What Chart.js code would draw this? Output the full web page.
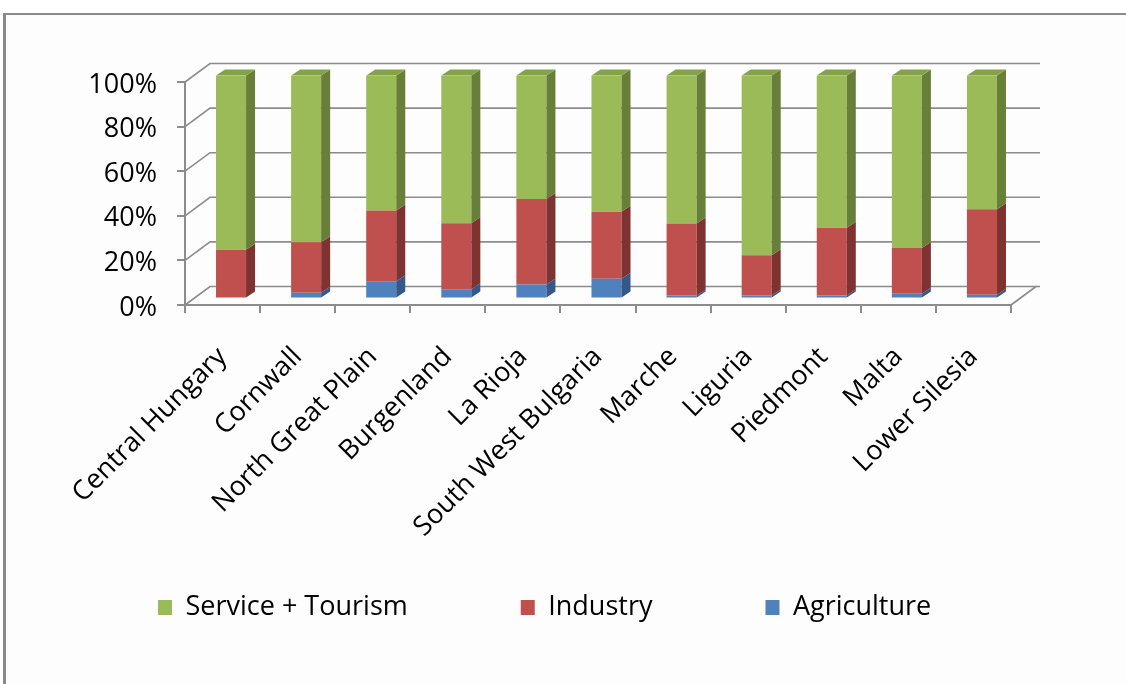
<!DOCTYPE html>
<html>
<head>
<meta charset="utf-8">
<title>Employment by sector</title>
<script src="https://cdn.jsdelivr.net/npm/chart.js@4.4.1/dist/chart.umd.min.js"></script>
<style>
    html, body { margin: 0; padding: 0; background: #ffffff; }
    #frame {
        position: absolute; left: 3px; top: 13px; right: 0; bottom: 0;
        border-top: 2px solid #8a8a8a; border-left: 3px solid #8a8a8a;
        background: #fdfdfd;
    }
    #sectorChart { position: absolute; left: 0; top: 0; }
</style>
</head>
<body>
<div id="frame"></div>
<canvas id="sectorChart" width="1126" height="684"></canvas>
<script>
// Regions
const regions = ['Central Hungary', 'Cornwall', 'North Great Plain', 'Burgenland', 'La Rioja',
    'South West Bulgaria', 'Marche', 'Liguria', 'Piedmont', 'Malta', 'Lower Silesia'];

// Share of employment per sector (%)
const agriculture = [0.5, 2.6, 7.7, 4.2, 6.3, 8.9, 1.4, 1.4, 1.4, 2.1, 1.7];
const industry = [21.4, 22.6, 31.8, 29.6, 38.3, 30.0, 32.2, 18.0, 30.3, 20.6, 38.3];
const serviceTourism = [78.1, 74.8, 60.5, 66.2, 55.4, 61.1, 66.4, 80.6, 68.3, 77.3, 60.0];

// y axis ticks
const percentTicks = [0, 20, 40, 60, 80, 100];

// front / side / top colours for each sector
const faces = {
    'Agriculture': ['#4f81bd', '#35588a', '#4371a9'],
    'Industry': ['#c0504d', '#7e3331', '#a2423f'],
    'Service + Tourism': ['#9bbb59', '#687f3a', '#84a24a']
};

// depth of the floor / walls and of the bars
const WALL_DX = 25, WALL_DY = -18.5;
const BAR_DX = 8.5, BAR_DY = -6.5;
const SIDE_DX = 9, SIDE_DY = -6;

Chart.defaults.font.family = "'Open Sans', sans-serif";
Chart.defaults.color = '#000000';

// back wall, left wall and floor drawn with a bit of depth
const wallsPlugin = {
    id: 'walls3d',
    afterLayout(chart) {
        // rotated region names run past the axis box, don't clip them
        chart.scales.x.bottom = chart.height;
    },
    beforeDatasetsDraw(chart) {
        const { ctx, scales: { x, y } } = chart;
        ctx.save();
        ctx.strokeStyle = '#8c8c8c';
        ctx.lineWidth = 1.6;
        percentTicks.forEach(v => {
            const py = y.getPixelForValue(v);
            ctx.beginPath();
            ctx.moveTo(x.left, py);
            ctx.lineTo(x.left + WALL_DX, py + WALL_DY);
            ctx.lineTo(x.right + WALL_DX + 4, py + WALL_DY);
            ctx.stroke();
        });
        ctx.beginPath();
        ctx.moveTo(x.right, y.bottom);
        ctx.lineTo(x.right + WALL_DX, y.bottom + WALL_DY);
        ctx.stroke();
        ctx.restore();

        // bars stand a little behind the front edge
        ctx.save();
        ctx.translate(BAR_DX, BAR_DY);
    },
    afterDatasetsDraw(chart) {
        const ctx = chart.ctx;
        const sets = chart.data.datasets;
        sets.forEach((ds, i) => {
            const meta = chart.getDatasetMeta(i);
            const [, side, topColor] = faces[ds.label];
            meta.data.forEach(bar => {
                const p = bar.getProps(['x', 'y', 'base', 'width'], true);
                const l = p.x - p.width / 2, r = p.x + p.width / 2;
                ctx.fillStyle = side;
                ctx.beginPath();
                ctx.moveTo(r, p.y);
                ctx.lineTo(r + SIDE_DX, p.y + SIDE_DY);
                ctx.lineTo(r + SIDE_DX, p.base + SIDE_DY);
                ctx.lineTo(r, p.base);
                ctx.closePath();
                ctx.fill();
                if (i === sets.length - 1) {
                    ctx.fillStyle = topColor;
                    ctx.beginPath();
                    ctx.moveTo(l, p.y);
                    ctx.lineTo(l + SIDE_DX, p.y + SIDE_DY);
                    ctx.lineTo(r + SIDE_DX, p.y + SIDE_DY);
                    ctx.lineTo(r, p.y);
                    ctx.closePath();
                    ctx.fill();
                }
            });
        });
        ctx.restore();
    }
};

function sectorSet(label, data) {
    return {
        label: label,
        data: data,
        backgroundColor: faces[label][0],
        borderWidth: 0,
        barPercentage: 0.4,
        categoryPercentage: 1
    };
}

const sectorChart = new Chart(document.getElementById('sectorChart'), {
    type: 'bar',
    data: {
        labels: regions,
        datasets: [
            sectorSet('Agriculture', agriculture),
            sectorSet('Industry', industry),
            sectorSet('Service + Tourism', serviceTourism)
        ]
    },
    options: {
        responsive: false,
        animation: false,
        layout: { padding: { left: 45, right: 0, top: 82, bottom: 53 } },
        scales: {
            x: {
                stacked: true,
                grid: { drawOnChartArea: false, tickLength: 8, color: '#8c8c8c', lineWidth: 2 },
                border: { color: '#8c8c8c', width: 2 },
                ticks: {
                    autoSkip: false, minRotation: 45, maxRotation: 45, padding: 28,
                    font: { size: 27 }
                },
                afterFit(scale) { scale.height = 176; }
            },
            y: {
                stacked: true,
                min: 0,
                max: 100,
                grid: { drawOnChartArea: false, tickLength: 8, color: '#8c8c8c', lineWidth: 2 },
                border: { color: '#8c8c8c', width: 2 },
                ticks: {
                    stepSize: 20, padding: 20, labelOffset: 3,
                    font: { size: 27 },
                    callback: v => v + '%'
                },
                afterFit(scale) { scale.width = 140; }
            },
            // keeps room on the right for the depth of the walls
            yRight: {
                type: 'linear',
                position: 'right',
                grid: { display: false },
                border: { display: false },
                ticks: { display: false },
                afterFit(scale) { scale.width = 115; }
            }
        },
        plugins: {
            legend: {
                position: 'bottom',
                align: 'start',
                reverse: true,
                labels: {
                    boxWidth: 14,
                    boxHeight: 15,
                    padding: 113,
                    font: { size: 27 }
                }
            },
            tooltip: { enabled: false }
        }
    },
    plugins: [wallsPlugin]
});
</script>
</body>
</html>
